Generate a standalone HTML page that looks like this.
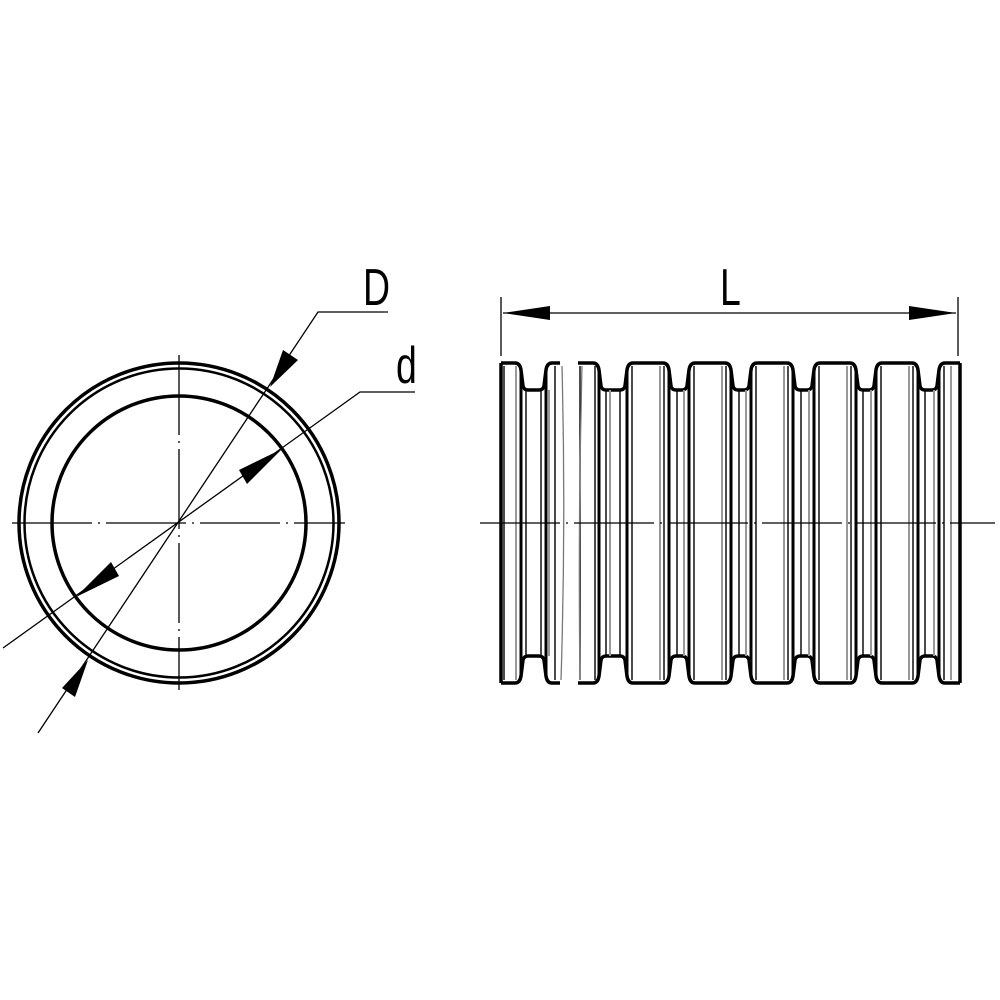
<!DOCTYPE html>
<html><head><meta charset="utf-8"><style>html,body{margin:0;padding:0;background:#fff}svg{display:block}</style></head>
<body>
<svg width="1000" height="1000" viewBox="0 0 1000 1000" xmlns="http://www.w3.org/2000/svg">
<rect width="1000" height="1000" fill="#fff"/>
<g fill="none" stroke="#000">
<circle cx="179" cy="523" r="160" stroke-width="3.5"/>
<circle cx="179" cy="523" r="154.5" stroke-width="2.5"/>
<circle cx="179" cy="523" r="127" stroke-width="3.5"/>
<g stroke-width="1.3">
<line x1="12" y1="523" x2="345" y2="523" stroke-dasharray="80,6,2,6"/>
<line x1="179" y1="355" x2="179" y2="690" stroke-dasharray="80,6,2,6"/>
<polyline points="38,733 318,312 388,312"/>
<polyline points="3,648 360,392 415,392"/>
</g>
</g>
<g fill="#000">
<polygon points="270,387 283,350 298,360"/>
<polygon points="88,660 75,697 62,688"/>
<polygon points="282,449 247,484 239,470"/>
<polygon points="76,597 119,576 111,562"/>
</g>
<text x="0" y="305" transform="translate(363,0) scale(0.72,1)" font-family="Liberation Sans,sans-serif" font-size="52">D</text>
<text x="0" y="383" transform="translate(396,0) scale(0.72,1)" font-family="Liberation Sans,sans-serif" font-size="52">d</text>
<g stroke="#000" stroke-width="1.3">
<line x1="501" y1="297" x2="501" y2="356"/>
<line x1="958" y1="297" x2="958" y2="356"/>
<line x1="503" y1="313" x2="956" y2="313"/>
</g>
<polygon points="503,313 550,306 550,320" fill="#000"/>
<polygon points="956,313 909,306 909,320" fill="#000"/>
<text x="0" y="305" transform="translate(720,0) scale(0.72,1)" font-family="Liberation Sans,sans-serif" font-size="52">L</text>
<defs>
<path id="top" d="M501,363 H515 Q520,363 521,370 L523,386 Q524,390 528,390 H539 Q543,390 544,386 L546,370 Q547,363 552,363 H560
M578,363 H593 Q598,363 599,370 L601,386 Q602,390 606,390 H620 Q624,390 625,386 L627,370 Q628,363 633,363
H663 Q668,363 669,370 L671,386 Q672,390 676,390 H682 Q686,390 687,386 L689,370 Q690,363 695,363
H725 Q730,363 731,370 L733,386 Q734,390 738,390 H744 Q748,390 749,386 L751,370 Q752,363 757,363
H787 Q792,363 793,370 L795,386 Q796,390 800,390 H807 Q811,390 812,386 L814,370 Q815,363 820,363
H850 Q855,363 856,370 L858,386 Q859,390 863,390 H869 Q873,390 874,386 L876,370 Q877,363 882,363
H912 Q917,363 918,370 L920,386 Q921,390 925,390 H932 Q936,390 937,386 L939,370 Q940,363 945,363 H960"/>
</defs>
<g fill="none" stroke="#000" stroke-width="3.5" stroke-linejoin="round">
<use href="#top"/>
<use href="#top" transform="translate(0,1046) scale(1,-1)"/>
<line x1="501" y1="363" x2="501" y2="683"/>
<line x1="960" y1="363" x2="960" y2="683"/>
</g>
<g stroke="#000" stroke-width="3">
<line x1="521" y1="370" x2="521" y2="676"/><line x1="546" y1="370" x2="546" y2="676"/>
<line x1="599" y1="370" x2="599" y2="676"/><line x1="627" y1="370" x2="627" y2="676"/>
<line x1="669" y1="370" x2="669" y2="676"/><line x1="689" y1="370" x2="689" y2="676"/>
<line x1="731" y1="370" x2="731" y2="676"/><line x1="751" y1="370" x2="751" y2="676"/>
<line x1="793" y1="370" x2="793" y2="676"/><line x1="814" y1="370" x2="814" y2="676"/>
<line x1="856" y1="370" x2="856" y2="676"/><line x1="876" y1="370" x2="876" y2="676"/>
<line x1="918" y1="370" x2="918" y2="676"/><line x1="939" y1="370" x2="939" y2="676"/>
</g>
<g stroke="#000" stroke-width="1.4">
<line x1="504" y1="366" x2="504" y2="680"/><line x1="555" y1="366" x2="555" y2="680"/>
<line x1="526" y1="390" x2="526" y2="656"/><line x1="541" y1="390" x2="541" y2="656"/>
<line x1="580" y1="366" x2="580" y2="680"/><line x1="595" y1="366" x2="595" y2="680"/>
<line x1="606" y1="390" x2="606" y2="656"/><line x1="620" y1="390" x2="620" y2="656"/>
<line x1="632" y1="366" x2="632" y2="680"/><line x1="664" y1="366" x2="664" y2="680"/>
<line x1="694" y1="366" x2="694" y2="680"/><line x1="726" y1="366" x2="726" y2="680"/>
<line x1="756" y1="366" x2="756" y2="680"/><line x1="788" y1="366" x2="788" y2="680"/>
<line x1="819" y1="366" x2="819" y2="680"/><line x1="851" y1="366" x2="851" y2="680"/>
<line x1="881" y1="366" x2="881" y2="680"/><line x1="913" y1="366" x2="913" y2="680"/>
<line x1="944" y1="366" x2="944" y2="680"/>
<line x1="677" y1="390" x2="677" y2="656"/><line x1="739" y1="390" x2="739" y2="656"/>
<line x1="801" y1="390" x2="801" y2="656"/><line x1="863" y1="390" x2="863" y2="656"/>
<line x1="925" y1="390" x2="925" y2="656"/>
</g>
<g stroke="#999" stroke-width="2">
<line x1="516" y1="366" x2="516" y2="680"/><line x1="549" y1="390" x2="549" y2="656"/>
<line x1="610" y1="390" x2="610" y2="656"/><line x1="660" y1="366" x2="660" y2="680"/>
<line x1="684" y1="390" x2="684" y2="656"/><line x1="722" y1="366" x2="722" y2="680"/>
<line x1="746" y1="390" x2="746" y2="656"/><line x1="784" y1="366" x2="784" y2="680"/>
<line x1="809" y1="390" x2="809" y2="656"/><line x1="847" y1="366" x2="847" y2="680"/>
<line x1="871" y1="390" x2="871" y2="656"/><line x1="909" y1="366" x2="909" y2="680"/>
<line x1="934" y1="390" x2="934" y2="656"/><line x1="951" y1="366" x2="951" y2="680"/>
</g>
<g fill="none" stroke="#777" stroke-width="1.3">
<path d="M562,366 Q566,523 561,680"/>
<path d="M582,366 Q578,523 580,680"/>
</g>
<line x1="480" y1="523" x2="995" y2="523" stroke="#000" stroke-width="1.3" stroke-dasharray="80,6,2,6"/>
</svg>
</body></html>
